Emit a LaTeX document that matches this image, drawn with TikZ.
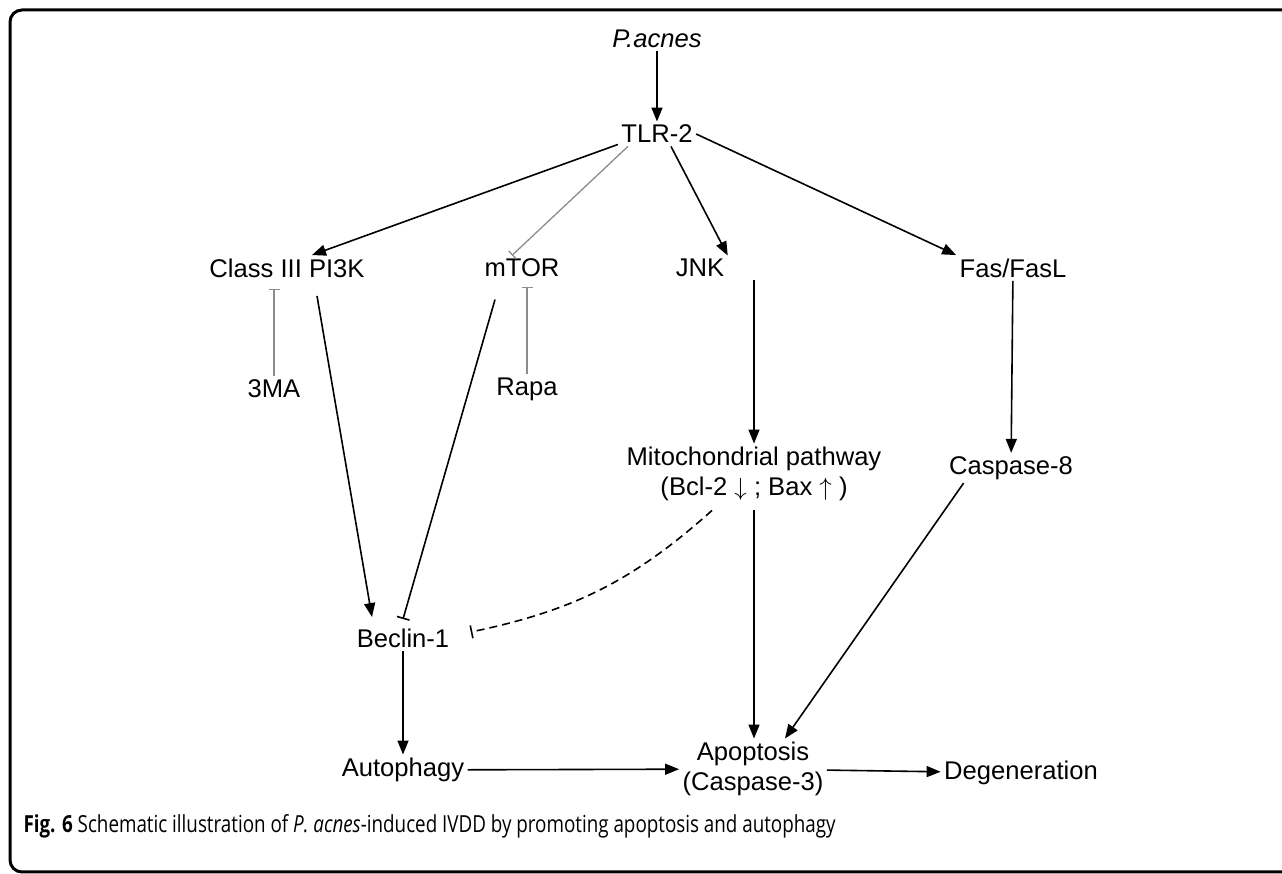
\documentclass[tikz,border=0pt]{standalone}
\usepackage{fontspec}
\setmainfont{Liberation Sans}
\newfontfamily\capfont[FakeStretch=0.8]{Open Sans}
\usepackage{tikz}
\usetikzlibrary{arrows.meta,positioning,calc}

\begin{document}
\begin{tikzpicture}[
  x=1pt,y=1pt,
  every node/.style={font=\fontsize{25.6}{30}\selectfont,align=center},
  act/.style={-{Triangle[length=14pt,width=11pt]},line width=1.6pt},
  inhib/.style={-{Bar[width=13pt,line width=1.6pt]},line width=1.6pt},
  grayinhib/.style={-{Bar[width=11pt,line width=1.3pt]},line width=1.3pt,black!45},
]
\useasboundingbox (0,0) rectangle (1282,874);
\begin{scope}
  \clip (0,0) rectangle (1282,874);
  \draw[line width=3pt,rounded corners=12pt] (10,2) rectangle (1320,864);
\end{scope}

% top
\node (pacnes) at (657,835) {\itshape P.acnes};
\node (tlr)    at (657,740) {TLR-2};
% second row
\node (pik)  at (287,606)  {Class III PI3K};
\node (mtor) at (522,606)  {mTOR};
\node (jnk)  at (700,606)  {JNK};
\node (fas)  at (1013,606) {Fas/FasL};
% inhibitors
\node (ma)   at (274,485) {3MA};
\node (rapa) at (527,485) {Rapa};
% middle row
\node (mito)  at (754,400)  {Mitochondrial pathway\\(Bcl-2 $\downarrow$ ; Bax $\uparrow$ )};
\node (casp8) at (1011,406) {Caspase-8};
\node (beclin) at (403,236) {Beclin-1};
% bottom row
\node (autoph) at (403,104)  {Autophagy};
\node (apopt)  at (753,105)  {Apoptosis\\(Caspase-3)};
\node (degen)  at (1021,101) {Degeneration};

\node[anchor=west,font=\capfont\fontsize{23.5}{27}\selectfont] (caption) at (20,48)
  {\textbf{Fig. 6} Schematic illustration of \textit{P. acnes}-induced IVDD by promoting apoptosis and autophagy};

% connectors
\draw[act] (pacnes) -- (tlr);
\draw[act] (tlr.195) -- ([xshift=25pt]pik.north);
\draw[grayinhib] ([xshift=10pt]tlr.south west) -- ([xshift=-10pt]mtor.north);
\draw[act] ([xshift=14pt]tlr.south) -- (jnk.north east);
\draw[act] (tlr.east) -- (fas.north west);
\draw[grayinhib] (ma.north) -- ([yshift=-8pt]ma.north |- pik.south);
\draw[grayinhib] (rapa.north) -- ([yshift=-6pt]rapa.north |- mtor.south);
\draw[act] ([xshift=30pt,yshift=-15pt]pik.south) -- ([xshift=-31pt,yshift=8pt]beclin.north);
\draw[inhib] ([xshift=-27pt,yshift=-19pt]mtor.south) -- ([yshift=6pt]beclin.north);
\draw[act] (jnk.south -| mito.north) -- (mito.north);
\draw[act] (fas) -- (casp8);
\draw[inhib,dash pattern=on 8pt off 5pt] ([xshift=-42pt,yshift=-6pt]mito.south) to[bend left=15] ([xshift=18pt,yshift=6pt]beclin.east);
\draw[act] ([yshift=-6pt]mito.south) -- (mito.south |- apopt.north);
\draw[act] ([xshift=18pt]casp8.south west) -- ([xshift=32pt]apopt.north);
\draw[act] (beclin) -- (autoph);
\draw[act] (autoph) -- (apopt);
\draw[act] (apopt) -- (degen);
\end{tikzpicture}
\end{document}
